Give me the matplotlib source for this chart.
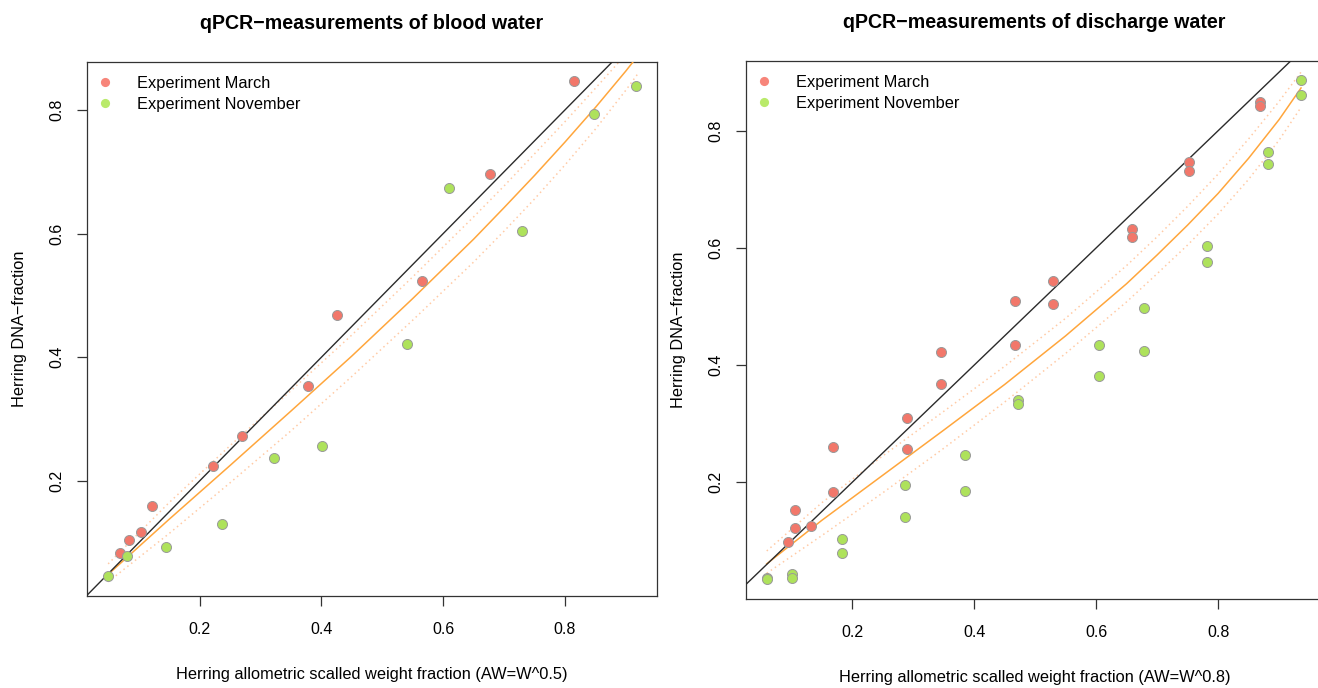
import matplotlib
matplotlib.use("Agg")
import matplotlib.pyplot as plt
from matplotlib.lines import Line2D

plt.rcParams['font.family'] = ['Liberation Sans', 'DejaVu Sans']

# ---------------- blood water ----------------
blood_march_x = [0.069, 0.085, 0.104, 0.122, 0.222, 0.269, 0.378, 0.426, 0.565, 0.677, 0.815]
blood_march_y = [0.083, 0.104, 0.118, 0.159, 0.225, 0.273, 0.353, 0.469, 0.524, 0.697, 0.846]
blood_nov_x = [0.050, 0.081, 0.145, 0.237, 0.322, 0.401, 0.540, 0.610, 0.730, 0.848, 0.916]
blood_nov_y = [0.046, 0.078, 0.093, 0.131, 0.237, 0.256, 0.421, 0.674, 0.604, 0.793, 0.838]

# fitted curve with its confidence band
blood_curve_x = [0.05, 0.15, 0.25, 0.35, 0.45, 0.55, 0.65, 0.70, 0.75, 0.80, 0.85, 0.90, 0.92]
blood_fit = [0.049, 0.138, 0.225, 0.313, 0.402, 0.495, 0.591, 0.642, 0.694, 0.748, 0.804, 0.863, 0.888]
blood_upper = [0.066, 0.165, 0.257, 0.346, 0.436, 0.530, 0.627, 0.677, 0.729, 0.781, 0.835, 0.890, 0.912]
blood_lower = [0.037, 0.115, 0.197, 0.281, 0.369, 0.460, 0.554, 0.604, 0.656, 0.711, 0.769, 0.832, 0.859]

# ---------------- discharge water ----------------
dis_march_x = [0.095, 0.107, 0.107, 0.133, 0.168, 0.168, 0.290, 0.290, 0.345, 0.345,
               0.467, 0.467, 0.530, 0.530, 0.659, 0.659, 0.752, 0.752, 0.868, 0.868]
dis_march_y = [0.099, 0.153, 0.122, 0.125, 0.260, 0.184, 0.309, 0.257, 0.423, 0.368,
               0.510, 0.434, 0.543, 0.504, 0.633, 0.618, 0.746, 0.731, 0.849, 0.843]
dis_nov_x = [0.061, 0.061, 0.101, 0.101, 0.183, 0.183, 0.286, 0.286, 0.385, 0.385,
             0.472, 0.472, 0.605, 0.605, 0.678, 0.678, 0.781, 0.781, 0.882, 0.882, 0.936, 0.936]
dis_nov_y = [0.037, 0.035, 0.043, 0.037, 0.104, 0.080, 0.195, 0.141, 0.246, 0.186,
             0.340, 0.334, 0.434, 0.382, 0.498, 0.424, 0.603, 0.576, 0.764, 0.744, 0.886, 0.861]

dis_curve_x = [0.06, 0.15, 0.25, 0.35, 0.45, 0.55, 0.65, 0.70, 0.75, 0.80, 0.85, 0.90, 0.936]
dis_fit = [0.061, 0.135, 0.212, 0.289, 0.367, 0.450, 0.539, 0.588, 0.639, 0.693, 0.753, 0.819, 0.873]
dis_upper = [0.083, 0.165, 0.245, 0.321, 0.398, 0.480, 0.570, 0.619, 0.671, 0.726, 0.786, 0.850, 0.900]
dis_lower = [0.045, 0.109, 0.182, 0.258, 0.337, 0.420, 0.508, 0.556, 0.605, 0.658, 0.717, 0.784, 0.840]

tick_values = [0.2, 0.4, 0.6, 0.8]
tick_labels = ["0.2", "0.4", "0.6", "0.8"]
legend_labels = ["Experiment March", "Experiment November"]

RED = "#F2776A"
GREEN = "#AEE25B"
RED_LEG = "#F7857A"
GREEN_LEG = "#B9EA6A"
EDGE = "#9A9A9A"
ORANGE = "#FFA63C"
BAND = "#FFCBA6"

W, H = 1318, 688
fig = plt.figure(figsize=(W / 100, H / 100), dpi=100)
ax1 = fig.add_axes([87 / W, 1 - 596 / H, 570 / W, 534 / H])
ax2 = fig.add_axes([746 / W, 1 - 599 / H, 577 / W, 538 / H])


def draw_panel(ax, mx, my, nx, ny, cx, fit, up, lo, xlim, ylim, title, xlabel):
    ax.plot(cx, up, linestyle=(0, (1, 2.2)), color=BAND, lw=1.1, zorder=2)
    ax.plot(cx, lo, linestyle=(0, (1, 2.2)), color=BAND, lw=1.1, zorder=2)
    ax.plot(cx, fit, color=ORANGE, lw=1.1, zorder=3)
    ax.axline((0, 0), slope=1, color="#2b2b2b", lw=1.0, zorder=3)
    ax.scatter(mx, my, s=52, c=RED, edgecolors=EDGE, linewidths=0.7, zorder=4)
    ax.scatter(nx, ny, s=52, c=GREEN, edgecolors=EDGE, linewidths=0.7, zorder=4)
    ax.set_xlim(*xlim)
    ax.set_ylim(*ylim)
    ax.set_xticks(tick_values)
    ax.set_xticklabels(tick_labels)
    ax.set_yticks(tick_values)
    ax.set_yticklabels(tick_labels, rotation=90, va="center")
    ax.tick_params(axis="x", direction="out", length=7.5, width=0.9,
                   color="#333333", labelsize=11.5, pad=11)
    ax.tick_params(axis="y", direction="out", length=7.5, width=0.9,
                   color="#333333", labelsize=11.5, pad=9)
    for sp in ax.spines.values():
        sp.set_linewidth(0.9)
        sp.set_color("#333333")
    ax.set_title(title, fontsize=14.1, fontweight="bold", pad=24)
    ax.set_xlabel(xlabel, fontsize=11.8, labelpad=22)
    ax.set_ylabel("Herring DNA\u2212fraction", fontsize=11.8, labelpad=16)
    handles = [Line2D([], [], marker="o", ls="", ms=6.6, mfc=RED_LEG, mec="none"),
               Line2D([], [], marker="o", ls="", ms=6.6, mfc=GREEN_LEG, mec="none")]
    ax.legend(handles, legend_labels, loc="upper left", bbox_to_anchor=(-0.008, 1.0),
              frameon=False, fontsize=11.8, handlelength=1.0, handletextpad=1.5,
              labelspacing=0.35, borderpad=0.55, borderaxespad=0.3)


draw_panel(ax1, blood_march_x, blood_march_y, blood_nov_x, blood_nov_y,
           blood_curve_x, blood_fit, blood_upper, blood_lower,
           (0.0153, 0.951), (0.0141, 0.8774),
           "qPCR\u2212measurements of blood water",
           "Herring allometric scalled weight fraction (AW=W^0.5)")
draw_panel(ax2, dis_march_x, dis_march_y, dis_nov_x, dis_nov_y,
           dis_curve_x, dis_fit, dis_upper, dis_lower,
           (0.026, 0.972), (0.001, 0.919),
           "qPCR\u2212measurements of discharge water",
           "Herring allometric scalled weight fraction (AW=W^0.8)")

fig.savefig("out.png", dpi=100, facecolor="white")
